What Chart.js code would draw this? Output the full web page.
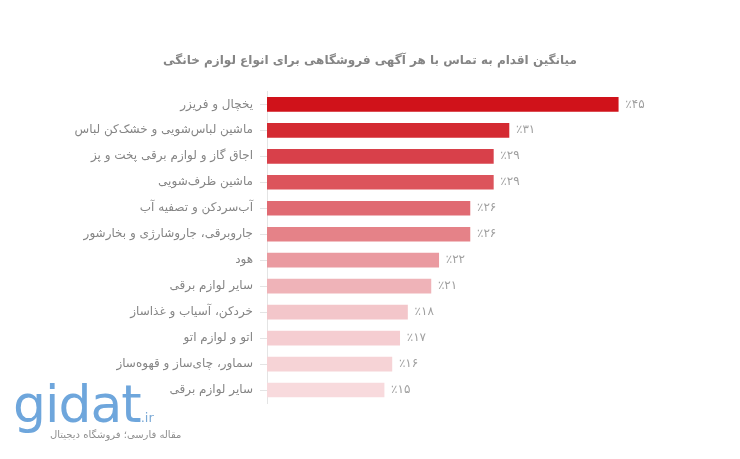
<!DOCTYPE html>
<html lang="fa">
<head>
<meta charset="utf-8">
<script src="https://cdn.jsdelivr.net/npm/chart.js@4"></script>
<style>
  body { margin: 0; background: #fff; }
  #wrap { position: relative; width: 740px; height: 459px; }
  #logo { position: absolute; left: 13px; top: 378px; font-family: "DejaVu Sans", sans-serif; color: #6ea6dc; }
  #logo .big { font-size: 52px; letter-spacing: -1px; line-height: 52px; }
  #logo .ir { font-size: 13px; color: #7aa9d6; }
  #logoSub { position: absolute; left: 50px; top: 429px; font-family: "DejaVu Sans", sans-serif; font-size: 10px; color: #8f8f8f; direction: rtl; }
</style>
</head>
<body>
<div id="wrap">
  <canvas id="chartAppliances" width="740" height="459"></canvas>
  <div id="logo"><span class="big">gidat</span><span class="ir">.ir</span></div>
  <div id="logoSub">مقاله فارسی؛ فروشگاه دیجیتال</div>
</div>
<script>
const categories = [
  "یخچال و فریزر",
  "ماشین لباس‌شویی و خشک‌کن لباس",
  "اجاق گاز و لوازم برقی پخت و پز",
  "ماشین ظرف‌شویی",
  "آب‌سردکن و تصفیه آب",
  "جاروبرقی، جاروشارژی و بخارشور",
  "هود",
  "سایر لوازم برقی",
  "خردکن، آسیاب و غذاساز",
  "اتو و لوازم اتو",
  "سماور، چای‌ساز و قهوه‌ساز",
  "سایر لوازم برقی",
];
const values = [45, 31, 29, 29, 26, 26, 22, 21, 18, 17, 16, 15];
const barColors = [
  "#d0121a", "#d42a32", "#d8404a", "#dc545c", "#e06a72", "#e58288",
  "#ea9aa0", "#efb3b8", "#f3c6ca", "#f5cdd1", "#f6d3d6", "#f8dadd",
];
const chartTitle = "میانگین اقدام به تماس با هر آگهی فروشگاهی برای انواع لوازم خانگی";

const toPersian = (n) => String(n).replace(/\d/g, (d) => "۰۱۲۳۴۵۶۷۸۹"[d]);

// value labels after each bar
const valueLabels = {
  id: "valueLabels",
  afterDatasetsDraw(chart) {
    const ctx = chart.ctx;
    const meta = chart.getDatasetMeta(0);
    ctx.save();
    ctx.font = "12px 'DejaVu Sans', sans-serif";
    ctx.fillStyle = "#a0a0a0";
    ctx.textAlign = "left";
    ctx.textBaseline = "middle";
    meta.data.forEach((bar, i) => {
      ctx.fillText("٪" + toPersian(values[i]), bar.x + 7, bar.y);
    });
    ctx.restore();
  },
};

const chartAppliances = document.getElementById("chartAppliances");

new Chart(chartAppliances, {
  type: "bar",
  data: {
    labels: categories,
    datasets: [
      {
        data: values,
        backgroundColor: barColors,
        barThickness: 14,
        borderWidth: 0,
      },
    ],
  },
  plugins: [valueLabels],
  options: {
    indexAxis: "y",
    responsive: false,
    animation: false,
    layout: { padding: { left: 0, right: 0, top: 0, bottom: 56 } },
    plugins: {
      legend: { display: false },
      tooltip: { enabled: false },
      title: {
        display: true,
        text: chartTitle,
        color: "#858585",
        font: { family: "'DejaVu Sans', sans-serif", size: 12, weight: "bold" },
        padding: { top: 54, bottom: 23 },
      },
    },
    scales: {
      x: {
        display: false,
        min: 0,
        max: 60.6,
      },
      y: {
        afterFit(scale) {
          scale.width = 267;
        },
        grid: {
          offset: false,
          drawOnChartArea: false,
          tickLength: 7,
          color: "#e4e4e4",
        },
        border: { color: "#e4e4e4" },
        ticks: {
          padding: 7,
          color: "#858585",
          font: { family: "'DejaVu Sans', sans-serif", size: 12 },
        },
      },
    },
  },
});
</script>
</body>
</html>
